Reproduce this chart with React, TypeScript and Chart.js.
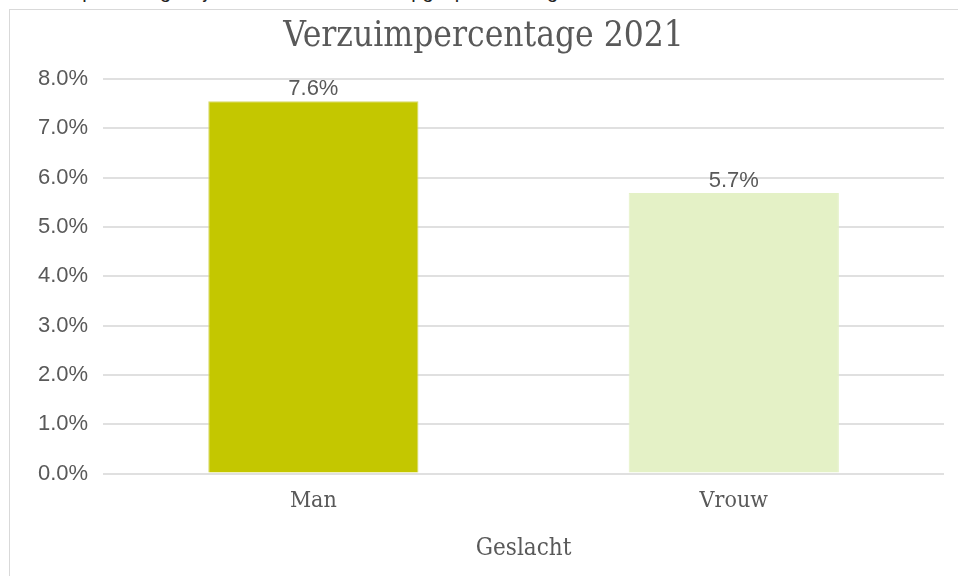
import React, { useEffect, useRef } from "react";
import { Chart, registerables } from "chart.js";

Chart.register(...registerables);

const chartTitle = "Verzuimpercentage 2021";
const xAxisTitle = "Geslacht";
const categories = ["Man", "Vrouw"];
const values = [7.55, 5.69];
const valueLabels = ["7.6%", "5.7%"];
const barColors = ["#C4C700", "#E4F1C6"];
const barBorders = ["#D6D96A", "#E4F1C6"];
const yMin = 0;
const yMax = 8;
const yStep = 1;
const captionText = "Verzuimpercentage bij mannen en vrouwen opgesplitst naar geslacht";

const serif = "'DejaVu Serif Condensed', 'DejaVu Serif', serif";
const sans = "'Liberation Sans', Arial, sans-serif";
const textColor = "#595959";

const valueLabelPlugin = {
  id: "valueLabels",
  afterDatasetsDraw(chart: any) {
    const ctx = chart.ctx;
    const meta = chart.getDatasetMeta(0);
    ctx.save();
    ctx.font = `22px ${sans}`;
    ctx.fillStyle = textColor;
    ctx.textAlign = "center";
    ctx.textBaseline = "middle";
    meta.data.forEach((bar: any, i: number) => {
      ctx.fillText(valueLabels[i], bar.x, bar.y - 12);
    });
    ctx.restore();
  },
};

export default function App() {
  const canvasRef = useRef<HTMLCanvasElement | null>(null);

  useEffect(() => {
    const canvas = canvasRef.current;
    if (!canvas) return;
    const chart = new Chart(canvas, {
      type: "bar",
      data: {
        labels: categories,
        datasets: [
          {
            data: values,
            backgroundColor: barColors,
            borderColor: barBorders,
            borderWidth: 1,
            barPercentage: 0.5,
            categoryPercentage: 1,
          },
        ],
      },
      options: {
        responsive: false,
        animation: false,
        devicePixelRatio: 1,
        layout: { padding: { left: 13, right: 14, top: 0, bottom: 4 } },
        plugins: {
          legend: { display: false },
          tooltip: { enabled: false },
          title: {
            display: true,
            text: chartTitle,
            color: textColor,
            font: { family: serif, size: 35, weight: "normal", lineHeight: 1.2 },
            padding: { top: 6, bottom: 21 },
          },
        },
        scales: {
          x: {
            grid: { display: false, drawTicks: false },
            border: { display: false },
            ticks: {
              color: textColor,
              padding: 14,
              font: { family: serif, size: 23, lineHeight: 1.2 },
            },
            title: {
              display: true,
              text: xAxisTitle,
              color: textColor,
              font: { family: serif, size: 24, lineHeight: 1.2 },
              padding: { top: 5, bottom: 9 },
            },
          },
          y: {
            min: yMin,
            max: yMax,
            grid: { color: "#E0E0E0", lineWidth: 2, drawTicks: false },
            border: { display: false },
            ticks: {
              stepSize: yStep,
              color: textColor,
              padding: 15,
              font: { family: sans, size: 22, lineHeight: 1.2 },
              callback: (v: any) => Number(v).toFixed(1) + "%",
            },
          },
        },
      },
      plugins: [valueLabelPlugin],
    });
    return () => chart.destroy();
  }, []);

  return (
    <div
      style={{
        position: "fixed",
        left: 0,
        top: 0,
        width: 958,
        height: 576,
        overflow: "hidden",
        background: "#ffffff",
      }}
    >
      <div
        style={{
          position: "absolute",
          left: 10,
          top: -20,
          fontFamily: "'Liberation Sans', Arial, sans-serif",
          fontSize: 20,
          color: "#222222",
          whiteSpace: "nowrap",
        }}
      >
        {captionText}
      </div>
      <div
        style={{
          position: "absolute",
          left: 9,
          top: 9,
          width: 980,
          height: 600,
          borderLeft: "1px solid #D9D9D9",
          borderTop: "1px solid #D9D9D9",
          background: "#ffffff",
        }}
      >
        <canvas ref={canvasRef} width={948} height={566} style={{ display: "block" }} />
      </div>
    </div>
  );
}
